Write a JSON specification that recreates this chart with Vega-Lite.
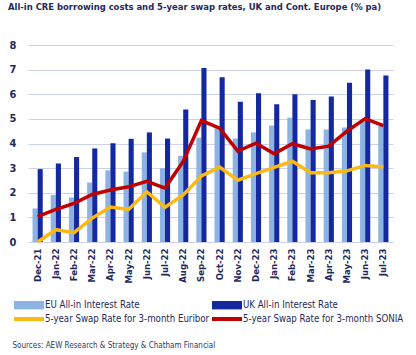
{
  "$schema": "https://vega.github.io/schema/vega-lite/v6.json",
  "autosize": "none",
  "width": 365,
  "height": 197,
  "padding": {"left": 28, "top": 45, "right": 23, "bottom": 113},
  "background": "white",
  "title": {
    "text": "All-in CRE borrowing costs and 5-year swap rates, UK and Cont. Europe (% pa)",
    "anchor": "start",
    "frame": "group",
    "dx": -20,
    "offset": 27,
    "font": "DejaVu Sans Condensed",
    "fontSize": 9.4,
    "fontWeight": "bold",
    "color": "#1f2a5c"
  },
  "config": {
    "view": {"stroke": null},
    "font": "DejaVu Sans Condensed"
  },
  "data": {
    "values": [
      {"month": "Dec-21", "series": "EU All-in Interest Rate", "value": 1.36},
      {"month": "Dec-21", "series": "UK All-in Interest Rate", "value": 2.96},
      {"month": "Dec-21", "series": "5-year Swap Rate for 3-month Euribor", "value": 0.0},
      {"month": "Dec-21", "series": "5-year Swap Rate for 3-month SONIA", "value": 1.03},
      {"month": "Jan-22", "series": "EU All-in Interest Rate", "value": 1.91},
      {"month": "Jan-22", "series": "UK All-in Interest Rate", "value": 3.19},
      {"month": "Jan-22", "series": "5-year Swap Rate for 3-month Euribor", "value": 0.5},
      {"month": "Jan-22", "series": "5-year Swap Rate for 3-month SONIA", "value": 1.32},
      {"month": "Feb-22", "series": "EU All-in Interest Rate", "value": 1.81},
      {"month": "Feb-22", "series": "UK All-in Interest Rate", "value": 3.45},
      {"month": "Feb-22", "series": "5-year Swap Rate for 3-month Euribor", "value": 0.38},
      {"month": "Feb-22", "series": "5-year Swap Rate for 3-month SONIA", "value": 1.57},
      {"month": "Mar-22", "series": "EU All-in Interest Rate", "value": 2.42},
      {"month": "Mar-22", "series": "UK All-in Interest Rate", "value": 3.8},
      {"month": "Mar-22", "series": "5-year Swap Rate for 3-month Euribor", "value": 0.97},
      {"month": "Mar-22", "series": "5-year Swap Rate for 3-month SONIA", "value": 1.93},
      {"month": "Apr-22", "series": "EU All-in Interest Rate", "value": 2.91},
      {"month": "Apr-22", "series": "UK All-in Interest Rate", "value": 4.01},
      {"month": "Apr-22", "series": "5-year Swap Rate for 3-month Euribor", "value": 1.42},
      {"month": "Apr-22", "series": "5-year Swap Rate for 3-month SONIA", "value": 2.11},
      {"month": "May-22", "series": "EU All-in Interest Rate", "value": 2.86},
      {"month": "May-22", "series": "UK All-in Interest Rate", "value": 4.19},
      {"month": "May-22", "series": "5-year Swap Rate for 3-month Euribor", "value": 1.32},
      {"month": "May-22", "series": "5-year Swap Rate for 3-month SONIA", "value": 2.24},
      {"month": "Jun-22", "series": "EU All-in Interest Rate", "value": 3.64},
      {"month": "Jun-22", "series": "UK All-in Interest Rate", "value": 4.45},
      {"month": "Jun-22", "series": "5-year Swap Rate for 3-month Euribor", "value": 2.04},
      {"month": "Jun-22", "series": "5-year Swap Rate for 3-month SONIA", "value": 2.46},
      {"month": "Jul-22", "series": "EU All-in Interest Rate", "value": 2.99},
      {"month": "Jul-22", "series": "UK All-in Interest Rate", "value": 4.2},
      {"month": "Jul-22", "series": "5-year Swap Rate for 3-month Euribor", "value": 1.41},
      {"month": "Jul-22", "series": "5-year Swap Rate for 3-month SONIA", "value": 2.19},
      {"month": "Aug-22", "series": "EU All-in Interest Rate", "value": 3.5},
      {"month": "Aug-22", "series": "UK All-in Interest Rate", "value": 5.38},
      {"month": "Aug-22", "series": "5-year Swap Rate for 3-month Euribor", "value": 1.91},
      {"month": "Aug-22", "series": "5-year Swap Rate for 3-month SONIA", "value": 3.27},
      {"month": "Sep-22", "series": "EU All-in Interest Rate", "value": 4.24},
      {"month": "Sep-22", "series": "UK All-in Interest Rate", "value": 7.07},
      {"month": "Sep-22", "series": "5-year Swap Rate for 3-month Euribor", "value": 2.68},
      {"month": "Sep-22", "series": "5-year Swap Rate for 3-month SONIA", "value": 4.93},
      {"month": "Oct-22", "series": "EU All-in Interest Rate", "value": 4.62},
      {"month": "Oct-22", "series": "UK All-in Interest Rate", "value": 6.69},
      {"month": "Oct-22", "series": "5-year Swap Rate for 3-month Euribor", "value": 3.04},
      {"month": "Oct-22", "series": "5-year Swap Rate for 3-month SONIA", "value": 4.62},
      {"month": "Nov-22", "series": "EU All-in Interest Rate", "value": 4.2},
      {"month": "Nov-22", "series": "UK All-in Interest Rate", "value": 5.7},
      {"month": "Nov-22", "series": "5-year Swap Rate for 3-month Euribor", "value": 2.51},
      {"month": "Nov-22", "series": "5-year Swap Rate for 3-month SONIA", "value": 3.69},
      {"month": "Dec-22", "series": "EU All-in Interest Rate", "value": 4.45},
      {"month": "Dec-22", "series": "UK All-in Interest Rate", "value": 6.04},
      {"month": "Dec-22", "series": "5-year Swap Rate for 3-month Euribor", "value": 2.78},
      {"month": "Dec-22", "series": "5-year Swap Rate for 3-month SONIA", "value": 4.01},
      {"month": "Jan-23", "series": "EU All-in Interest Rate", "value": 4.73},
      {"month": "Jan-23", "series": "UK All-in Interest Rate", "value": 5.59},
      {"month": "Jan-23", "series": "5-year Swap Rate for 3-month Euribor", "value": 3.03},
      {"month": "Jan-23", "series": "5-year Swap Rate for 3-month SONIA", "value": 3.58},
      {"month": "Feb-23", "series": "EU All-in Interest Rate", "value": 5.05},
      {"month": "Feb-23", "series": "UK All-in Interest Rate", "value": 6.0},
      {"month": "Feb-23", "series": "5-year Swap Rate for 3-month Euribor", "value": 3.28},
      {"month": "Feb-23", "series": "5-year Swap Rate for 3-month SONIA", "value": 3.99},
      {"month": "Mar-23", "series": "EU All-in Interest Rate", "value": 4.57},
      {"month": "Mar-23", "series": "UK All-in Interest Rate", "value": 5.77},
      {"month": "Mar-23", "series": "5-year Swap Rate for 3-month Euribor", "value": 2.81},
      {"month": "Mar-23", "series": "5-year Swap Rate for 3-month SONIA", "value": 3.78},
      {"month": "Apr-23", "series": "EU All-in Interest Rate", "value": 4.57},
      {"month": "Apr-23", "series": "UK All-in Interest Rate", "value": 5.91},
      {"month": "Apr-23", "series": "5-year Swap Rate for 3-month Euribor", "value": 2.81},
      {"month": "Apr-23", "series": "5-year Swap Rate for 3-month SONIA", "value": 3.89},
      {"month": "May-23", "series": "EU All-in Interest Rate", "value": 4.65},
      {"month": "May-23", "series": "UK All-in Interest Rate", "value": 6.47},
      {"month": "May-23", "series": "5-year Swap Rate for 3-month Euribor", "value": 2.89},
      {"month": "May-23", "series": "5-year Swap Rate for 3-month SONIA", "value": 4.5},
      {"month": "Jun-23", "series": "EU All-in Interest Rate", "value": 4.91},
      {"month": "Jun-23", "series": "UK All-in Interest Rate", "value": 7.01},
      {"month": "Jun-23", "series": "5-year Swap Rate for 3-month Euribor", "value": 3.11},
      {"month": "Jun-23", "series": "5-year Swap Rate for 3-month SONIA", "value": 5.01},
      {"month": "Jul-23", "series": "EU All-in Interest Rate", "value": 4.71},
      {"month": "Jul-23", "series": "UK All-in Interest Rate", "value": 6.76},
      {"month": "Jul-23", "series": "5-year Swap Rate for 3-month Euribor", "value": 3.05},
      {"month": "Jul-23", "series": "5-year Swap Rate for 3-month SONIA", "value": 4.73}
    ]
  },
  "encoding": {
    "x": {
      "field": "month",
      "type": "nominal",
      "sort": null,
      "scale": {"paddingInner": 0.44, "paddingOuter": 0.25},
      "axis": {
        "title": "Sources: AEW Research & Strategy & Chatham Financial",
        "titleAnchor": "start",
        "titleAlign": "left",
        "titleX": -16,
        "titleY": 103,
        "titleBaseline": "middle",
        "titleFontSize": 8,
        "titleFontWeight": "normal",
        "titleColor": "#2d3a66",
        "labelAngle": 270,
        "labelFontSize": 9.5,
        "labelFontWeight": "bold",
        "labelColor": "#1f2a5c",
        "labelPadding": 6,
        "domain": false,
        "ticks": false,
        "grid": false
      }
    },
    "y": {
      "field": "value",
      "type": "quantitative",
      "scale": {"domain": [0, 8], "nice": false},
      "axis": {
        "title": null,
        "values": [0, 1, 2, 3, 4, 5, 6, 7, 8],
        "labelFontSize": 11,
        "labelFontWeight": "bold",
        "labelColor": "#1f2a5c",
        "labelPadding": 12,
        "labelAlign": "right",
        "domain": false,
        "ticks": false,
        "grid": true,
        "gridColor": "#cdd2ec",
        "gridWidth": 1
      }
    },
    "color": {
      "field": "series",
      "type": "nominal",
      "scale": {
        "domain": ["EU All-in Interest Rate", "UK All-in Interest Rate", "5-year Swap Rate for 3-month Euribor", "5-year Swap Rate for 3-month SONIA"],
        "range": ["#8db3e2", "#1428a0", "#fdb913", "#c00000"]
      },
      "legend": {
        "title": null,
        "orient": "none",
        "legendX": -5,
        "legendY": 254,
        "direction": "horizontal",
        "columns": 2,
        "gridAlign": "all",
        "columnPadding": 2,
        "rowPadding": 3,
        "labelFontSize": 9.6,
        "labelColor": "#1f2a5c",
        "labelOffset": 10,
        "symbolSize": 144,
        "symbolStrokeWidth": 0,
        "labelLimit": 300,
        "encode": {
          "symbols": {
            "update": {
              "shape": {"signal": "indexof(['EU All-in Interest Rate','UK All-in Interest Rate'], datum.value) >= 0 ? 'M-2.5,-0.7H2.5V0.7H-2.5Z' : 'M-2.5,-0.33H2.5V0.33H-2.5Z'"},
              "fill": {"scale": "color", "field": "value"},
              "strokeWidth": {"value": 0}
            }
          }
        }
      }
    }
  },
  "layer": [
    {
      "transform": [{"filter": "indexof(['EU All-in Interest Rate','UK All-in Interest Rate'], datum.series) >= 0"}],
      "mark": {"type": "bar"},
      "encoding": {
        "xOffset": {"field": "series", "type": "nominal", "sort": ["EU All-in Interest Rate", "UK All-in Interest Rate"]}
      }
    },
    {
      "transform": [{"filter": "indexof(['EU All-in Interest Rate','UK All-in Interest Rate'], datum.series) < 0"}],
      "mark": {"type": "line", "strokeWidth": 3.5, "strokeJoin": "miter"},
      "encoding": {
        "detail": {"field": "series", "type": "nominal"}
      }
    }
  ]
}
